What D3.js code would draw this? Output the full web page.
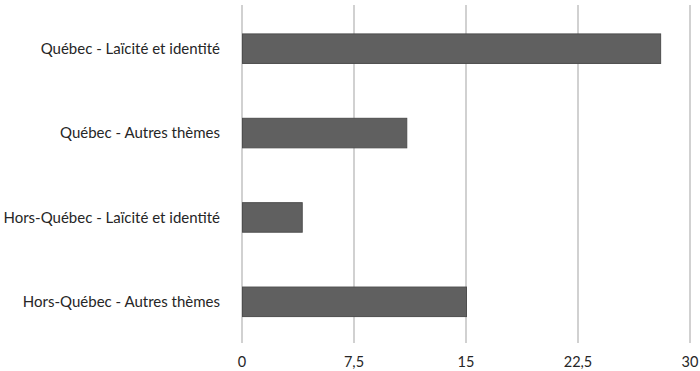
<!DOCTYPE html>
<html>
<head>
<meta charset="utf-8">
<script src="https://cdn.jsdelivr.net/npm/d3@7.9.0/dist/d3.min.js"></script>
<style>
  body { margin: 0; background: #fff; }
  svg text { font-family: "Lato", "Open Sans", sans-serif; fill: #262626; }
</style>
</head>
<body>
<svg id="chart" width="700" height="371"></svg>
<script>
// data
const categories = [
  "Québec - Laïcité et identité",
  "Québec - Autres thèmes",
  "Hors-Québec - Laïcité et identité",
  "Hors-Québec - Autres thèmes"
];
const values = [28, 11, 4, 15];
const ticks = [0, 7.5, 15, 22.5, 30];

const svg = d3.select("#chart");
const margin = { top: 5, right: 10, bottom: 27, left: 242 };
const width = 700, height = 371;

const x = d3.scaleLinear().domain([0, 30]).range([margin.left, width - margin.right]);
const y = d3.scaleBand().domain(categories)
  .range([margin.top + 1.5, height - margin.bottom])
  .paddingInner(0.65).paddingOuter(0.325);

// vertical gridlines
svg.append("g")
  .selectAll("line")
  .data(ticks)
  .join("line")
  .attr("x1", d => x(d)).attr("x2", d => x(d))
  .attr("y1", margin.top).attr("y2", height - margin.bottom - 1)
  .attr("stroke", "#c6c6c6")
  .attr("stroke-width", 1.6);

// bars
svg.append("g")
  .selectAll("rect")
  .data(values)
  .join("rect")
  .attr("x", x(0) + 0.5)
  .attr("y", (d, i) => y(categories[i]))
  .attr("width", d => x(d) - x(0))
  .attr("height", y.bandwidth())
  .attr("fill", "#606060")
  .attr("stroke", "#4e4e4e")
  .attr("stroke-width", 1);

// x tick labels
const fmt = d => String(d).replace(".", ",");
svg.append("g")
  .selectAll("text")
  .data(ticks)
  .join("text")
  .attr("x", d => x(d))
  .attr("y", 367)
  .attr("text-anchor", "middle")
  .attr("font-size", 14.5)
  .text(fmt);

// category labels
svg.append("g")
  .selectAll("text")
  .data(categories)
  .join("text")
  .attr("x", 220)
  .attr("y", d => y(d) + y.bandwidth() / 2)
  .attr("dy", "0.35em")
  .attr("text-anchor", "end")
  .attr("font-size", 15)
  .text(d => d);
</script>
</body>
</html>
